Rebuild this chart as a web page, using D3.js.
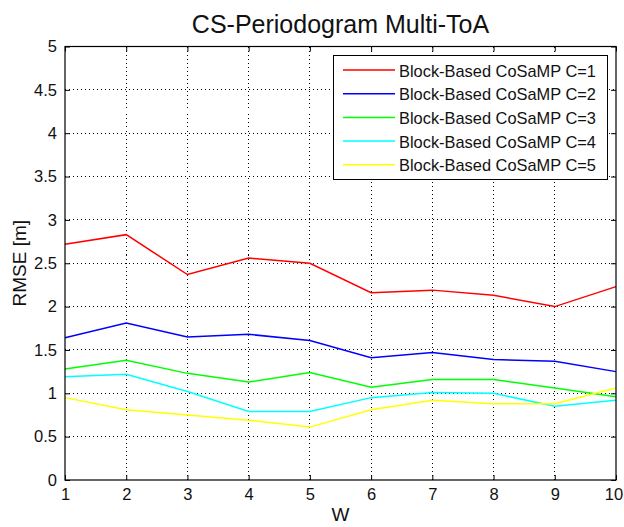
<!DOCTYPE html>
<html lang="en">
<head>
<meta charset="UTF-8">
<title>CS-Periodogram Multi-ToA</title>
<script src="https://cdnjs.cloudflare.com/ajax/libs/d3/7.8.5/d3.min.js"></script>
<style>
    body { margin: 0; background: #fff; overflow: hidden; }
    svg { display: block; font-family: "Liberation Sans", Arial, sans-serif; }
</style>
</head>
<body>
<svg width="624" height="527"></svg>
<script>
    // data
    const W = [1, 2, 3, 4, 5, 6, 7, 8, 9, 10];
    const c1 = [2.72, 2.83, 2.37, 2.56, 2.50, 2.16, 2.19, 2.13, 2.00, 2.23];
    const c2 = [1.64, 1.81, 1.65, 1.68, 1.61, 1.41, 1.47, 1.39, 1.37, 1.25];
    const c3 = [1.28, 1.38, 1.23, 1.13, 1.24, 1.07, 1.16, 1.16, 1.06, 0.96];
    const c4 = [1.19, 1.22, 1.02, 0.79, 0.79, 0.95, 1.01, 1.00, 0.85, 0.92];
    const c5 = [0.95, 0.81, 0.75, 0.69, 0.61, 0.81, 0.92, 0.88, 0.88, 1.06];
    const seriesNames = ["Block-Based CoSaMP C=1", "Block-Based CoSaMP C=2", "Block-Based CoSaMP C=3",
                         "Block-Based CoSaMP C=4", "Block-Based CoSaMP C=5"];
    const colors = ["#ff0000", "#0000ff", "#00ff00", "#00ffff", "#ffff00"];
    const yTicks = [0, 0.5, 1, 1.5, 2, 2.5, 3, 3.5, 4, 4.5, 5];

    const series = [c1, c2, c3, c4, c5];

    const m = { left: 65, right: 616, top: 46.5, bottom: 480 };
    const svg = d3.select("svg");

    const x = d3.scaleLinear().domain([1, 10]).range([m.left, m.right]);
    const y = d3.scaleLinear().domain([0, 5]).range([m.bottom, m.top]);

    // dotted grid
    const grid = svg.append("g");
    grid.selectAll(".gx").data(W.slice(1, -1)).enter().append("line")
        .attr("x1", d => x(d)).attr("x2", d => x(d))
        .attr("y1", m.top).attr("y2", m.bottom)
        .attr("stroke", "#000").attr("stroke-width", 1)
        .attr("stroke-dasharray", "1,3").attr("shape-rendering", "crispEdges");
    grid.selectAll(".gy").data(yTicks.slice(1, -1)).enter().append("line")
        .attr("y1", d => y(d)).attr("y2", d => y(d))
        .attr("x1", m.left).attr("x2", m.right)
        .attr("stroke", "#000").attr("stroke-width", 1)
        .attr("stroke-dasharray", "1,3").attr("shape-rendering", "crispEdges");

    // lines
    const line = d3.line().x((d, i) => x(W[i])).y(d => y(d));
    svg.append("g").selectAll("path").data(series).enter().append("path")
        .attr("d", d => line(d))
        .attr("fill", "none")
        .attr("stroke", (d, i) => colors[i])
        .attr("stroke-width", 1.5);

    // axes: inward ticks on all four sides
    const tl = 5;
    const xb = svg.append("g").attr("transform", `translate(0,${m.bottom})`)
        .call(d3.axisBottom(x).tickValues(W).tickSize(-tl).tickPadding(8).tickFormat(d3.format("d")));
    const xt = svg.append("g").attr("transform", `translate(0,${m.top})`)
        .call(d3.axisTop(x).tickValues(W).tickSize(-tl).tickFormat(""));
    const yl = svg.append("g").attr("transform", `translate(${m.left},0)`)
        .call(d3.axisLeft(y).tickValues(yTicks).tickSize(-tl).tickPadding(8).tickFormat(d => d));
    const yr = svg.append("g").attr("transform", `translate(${m.right},0)`)
        .call(d3.axisRight(y).tickValues(yTicks).tickSize(-tl).tickFormat(""));
    [xb, xt, yl, yr].forEach(a => {
        a.select(".domain").remove();
        a.selectAll("line").attr("stroke", "#000");
        a.selectAll("text").attr("fill", "#111").style("font-size", "16.5px")
            .style("font-family", "'Liberation Sans', Arial, sans-serif");
    });
    // keep the last x label inside the window
    xb.selectAll(".tick text").filter(d => d === 10).attr("dx", -2.5);
    svg.append("rect")
        .attr("x", m.left).attr("y", m.top)
        .attr("width", m.right - m.left).attr("height", m.bottom - m.top)
        .attr("fill", "none").attr("stroke", "#000").attr("stroke-width", 1.2);

    // title and axis labels
    svg.append("text").attr("x", (m.left + m.right) / 2).attr("y", 33)
        .attr("text-anchor", "middle").style("font-size", "25px").attr("fill", "#111")
        .text("CS-Periodogram Multi-ToA");
    svg.append("text").attr("x", (m.left + m.right) / 2).attr("y", 521)
        .attr("text-anchor", "middle").style("font-size", "19px").attr("fill", "#111")
        .text("W");
    svg.append("text").attr("transform", `translate(26,${(m.top + m.bottom) / 2}) rotate(-90)`)
        .attr("text-anchor", "middle").style("font-size", "19px").attr("fill", "#111")
        .text("RMSE [m]");

    // legend
    const lg = svg.append("g");
    lg.append("rect").attr("x", 333.5).attr("y", 55.5).attr("width", 274).attr("height", 124)
        .attr("fill", "#fff").attr("stroke", "#000").attr("stroke-width", 1);
    const row = lg.selectAll(".row").data(seriesNames).enter().append("g")
        .attr("transform", (d, i) => `translate(0,${70 + i * 23.7})`);
    row.append("line").attr("x1", 343).attr("x2", 395)
        .attr("stroke", (d, i) => colors[i]).attr("stroke-width", 1.5);
    row.append("text").attr("x", 399).attr("y", 6.5)
        .style("font-size", "16.4px").attr("fill", "#111").text(d => d);
</script>
</body>
</html>
